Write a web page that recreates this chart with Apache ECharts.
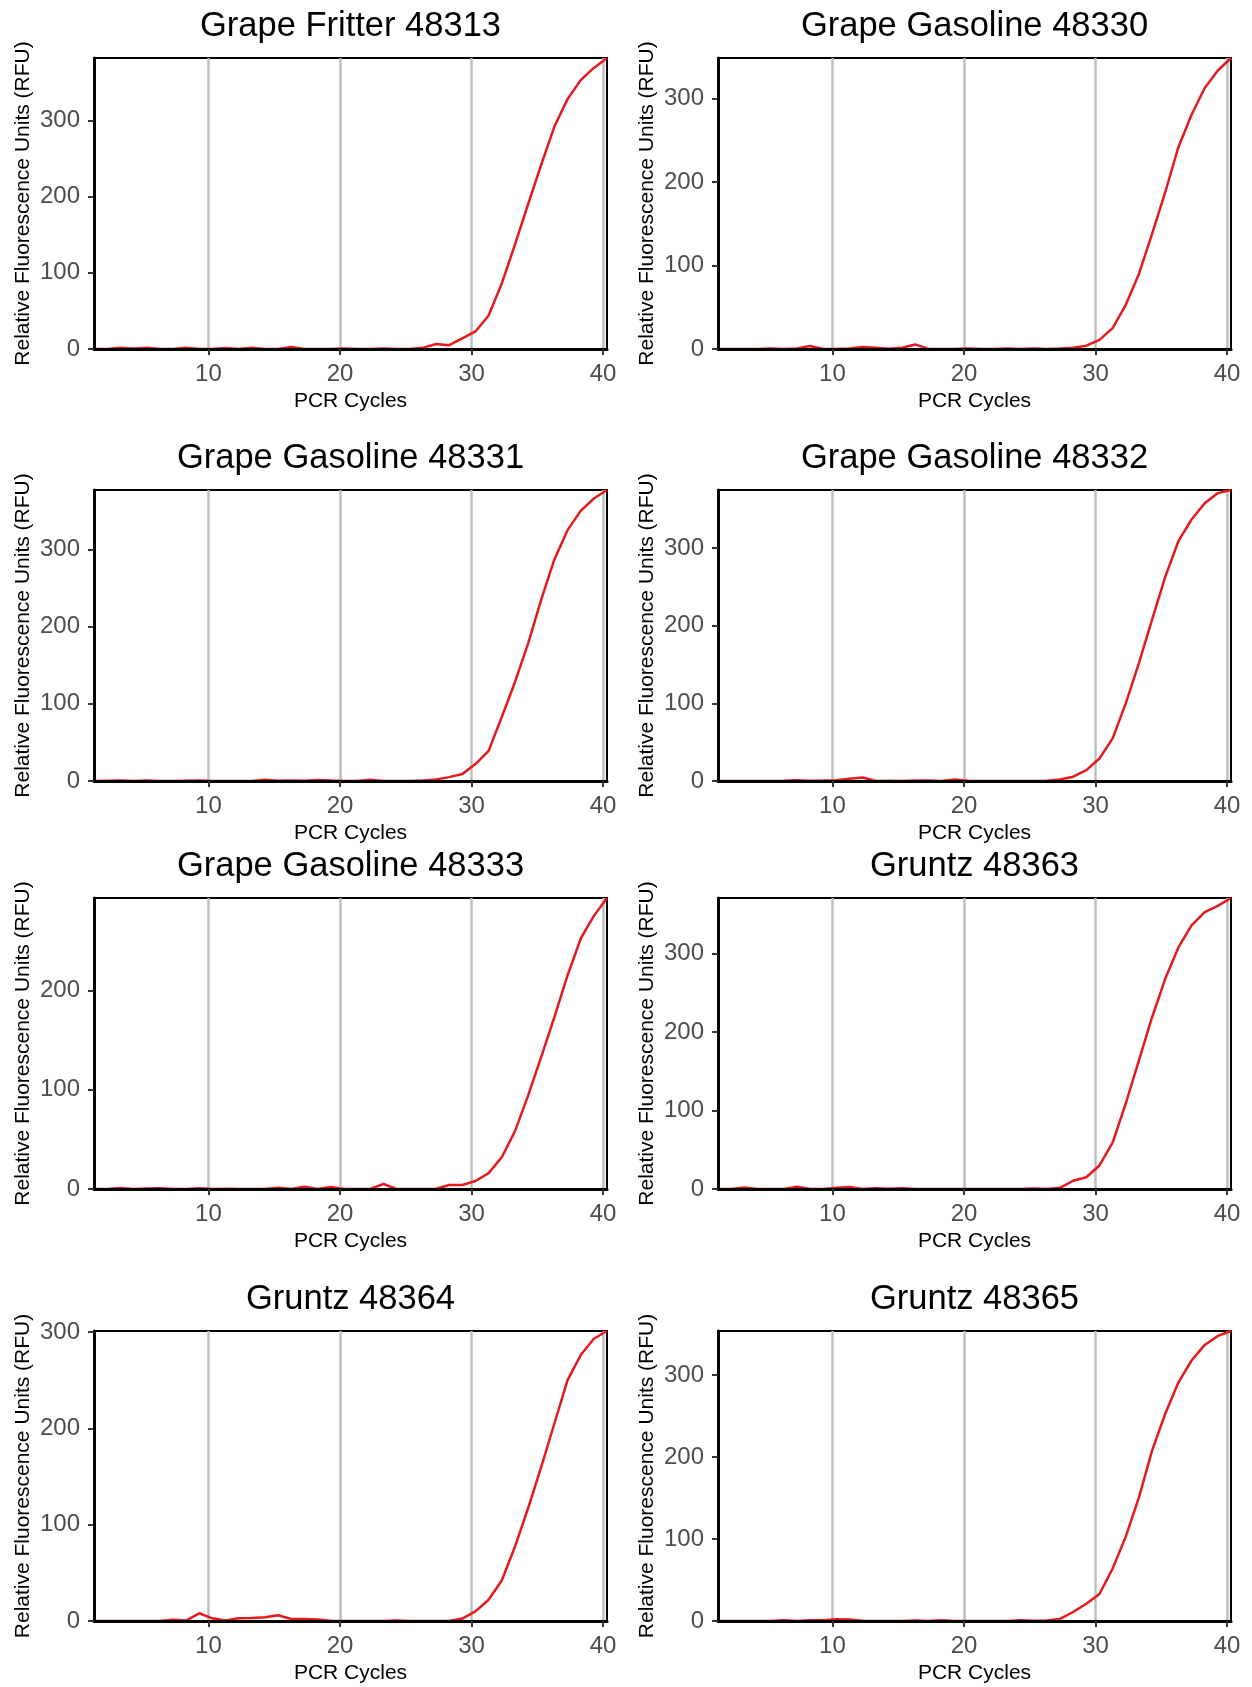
<!DOCTYPE html>
<html>
<head>
<meta charset="utf-8">
<script src="https://cdn.jsdelivr.net/npm/echarts@6/dist/echarts.min.js"></script>
<style>
html,body{margin:0;padding:0;background:#fff;}
#chart{width:1252px;height:1687px;}
</style>
</head>
<body>
<div id="chart"></div>
<script>
// ---- data ----
const cycles = [1.3, 2.3, 3.3, 4.3, 5.3, 6.3, 7.3, 8.3, 9.3, 10.3,
                11.3, 12.3, 13.3, 14.3, 15.3, 16.3, 17.3, 18.3, 19.3, 20.3,
                21.3, 22.3, 23.3, 24.3, 25.3, 26.3, 27.3, 28.3, 29.3, 30.3,
                31.3, 32.3, 33.3, 34.3, 35.3, 36.3, 37.3, 38.3, 39.3, 40.3];

const panelTitles = ["Grape Fritter 48313", "Grape Gasoline 48330",
                     "Grape Gasoline 48331", "Grape Gasoline 48332",
                     "Grape Gasoline 48333", "Gruntz 48363",
                     "Gruntz 48364", "Gruntz 48365"];

const rfu48313 = [0, 0, 1.5, 0.5, 1.5, 0, 0, 1.5, 0, 0,
                  1.2, 0, 1.8, 0, 0, 2.5, 0, 0, 0, 0.8,
                  0, 0, 0.8, 0, 0, 1.5, 6.5, 5, 14, 23,
                  44, 86, 137, 190, 242, 292, 328, 353, 369, 382];
const rfu48330 = [0, 0, 0, 0, 0.5, 0, 0.5, 3.5, 0, 0,
                  0.5, 2.5, 1.5, 0.3, 1.5, 5.5, 0, 0, 0, 0.5,
                  0, 0, 0.5, 0, 0.5, 0, 0.5, 1.5, 4, 11,
                  25, 53, 90, 138, 188, 242, 281, 313, 334, 349];
const rfu48331 = [0, 0.3, 0.5, 0, 0.8, 0, 0, 0.3, 0.5, 0,
                  0, 0, 0, 1.5, 0.3, 0.8, 0.3, 1.2, 0.5, 0,
                  0, 1.5, 0, 0, 0, 0.5, 2, 5, 9, 22,
                  39, 83, 128, 178, 235, 287, 325, 350, 366, 377];
const rfu48332 = [0, 0, 0, 0, 0, 0.3, 1, 0.3, 0.5, 1,
                  3, 4.5, 0, 0.3, 0, 0.5, 0.5, 0, 2, 0.3,
                  0, 0, 0, 0, 0, 0.3, 2, 5.5, 14, 29,
                  55, 100, 152, 208, 263, 309, 337, 358, 371, 375];
const rfu48333 = [0, 0, 1, 0, 0.5, 0.7, 0, 0, 0.8, 0,
                  0.3, 0, 0, 0, 1.2, 0, 2.3, 0, 2, 0,
                  0, 0, 5, 0, 0, 0, 0.3, 4, 4, 8,
                  16, 32, 58, 94, 133, 173, 215, 252, 275, 293];
const rfu48363 = [0, 0, 2, 0, 0, 0, 3, 0, 0, 1.5,
                  2.5, 0, 0.8, 0.3, 0.8, 0, 0, 0, 0, 0,
                  0, 0, 0, 0, 0.5, 0, 1.5, 10.5, 15, 30,
                  59, 109, 164, 219, 268, 308, 336, 353, 361, 371];
const rfu48364 = [0, 0, 0, 0, 0, 0, 1.3, 0.5, 8, 2.8,
                  0.5, 2.8, 3, 3.8, 6, 2, 2, 1.5, 0.3, 0,
                  0, 0, 0, 0.5, 0, 0, 0, 0, 2.5, 10,
                  22, 42, 77, 117, 160, 205, 250, 276, 293, 301];
const rfu48365 = [0, 0, 0, 0, 0, 0.8, 0, 1, 1, 2,
                  1.8, 0.3, 0, 0, 0, 0.5, 0, 1, 0, 0,
                  0, 0, 0, 1, 0.3, 0.5, 2.5, 11, 21, 33,
                  64, 103, 151, 208, 253, 291, 318, 337, 348, 354];

const xTickValues = [10, 20, 30, 40];
const yTickValues = [0, 100, 200, 300];

const xAxisTitle = "PCR Cycles";
const yAxisTitle = "Relative Fluorescence Units (RFU)";

const panelValues = [rfu48313, rfu48330, rfu48331, rfu48332,
                     rfu48333, rfu48363, rfu48364, rfu48365];

// ---- layout ----
const colLeft = [94, 718];
const rowTop = [58, 490, 898, 1331];
const rowH = [291, 291, 291, 290];
const plotW = 513;
const FONT = "'Liberation Sans', Arial, Helvetica, sans-serif";

const grids = [], xAxes = [], yAxes = [], series = [], graphics = [];

panelValues.forEach(function (vals, i) {
  const col = i % 2, row = Math.floor(i / 2);
  const left = colLeft[col], top = rowTop[row], h = rowH[row];
  grids.push({
    left: left, top: top, width: plotW, height: h,
    show: true, borderColor: '#000', borderWidth: 2,
    backgroundColor: 'transparent', containLabel: false
  });
  // background axis: vertical grid lines only
  xAxes.push({
    type: 'value', gridIndex: i, min: 1.3, max: 40.3, position: 'bottom', z: 0,
    axisLine: {show: false},
    axisTick: {show: false, customValues: xTickValues},
    axisLabel: {show: false, customValues: xTickValues},
    splitLine: {show: true, lineStyle: {color: '#BEBEBE', width: 2.5}}
  });
  // foreground axis: axis line, ticks, labels
  xAxes.push({
    type: 'value', gridIndex: i, min: 1.3, max: 40.3, position: 'bottom', z: 5,
    axisLine: {show: true, onZero: false, lineStyle: {color: '#000', width: 3}},
    axisTick: {show: true, customValues: xTickValues, length: 6,
               lineStyle: {color: '#333', width: 2}},
    axisLabel: {show: true, customValues: xTickValues, fontSize: 24, color: '#4D4D4D',
                fontFamily: FONT, margin: 13,
                formatter: function (v) { return xTickValues.indexOf(v) >= 0 ? String(v) : ''; }},
    splitLine: {show: false}
  });
  const vmax = Math.max.apply(null, vals);
  const yt = yTickValues.filter(function (v) { return v <= vmax; });
  yAxes.push({
    type: 'value', gridIndex: i, min: 0, max: 'dataMax', interval: 100, z: 5,
    axisLine: {show: true, onZero: false, lineStyle: {color: '#000', width: 3}},
    axisTick: {show: true, customValues: yt, length: 6, lineStyle: {color: '#333', width: 2}},
    axisLabel: {show: true, customValues: yt, fontSize: 24, color: '#4D4D4D',
                fontFamily: FONT, margin: 14,
                formatter: function (v) { return yt.indexOf(v) >= 0 ? String(v) : ''; }},
    splitLine: {show: false}
  });
  series.push({
    type: 'line', xAxisIndex: 2 * i, yAxisIndex: i, z: 2,
    data: cycles.map(function (c, k) { return [c, vals[k]]; }),
    showSymbol: false, symbol: 'none', silent: true, animation: false,
    lineStyle: {color: '#E41A1C', width: 2.5}
  });
  const cx = left + plotW / 2;
  graphics.push({
    type: 'text', x: cx, y: top - 32, silent: true,
    style: {text: panelTitles[i], fontSize: 34.5, fontFamily: FONT, fill: '#000',
            align: 'center', verticalAlign: 'middle',
            textAlign: 'center', textVerticalAlign: 'middle'}
  });
  graphics.push({
    type: 'text', x: cx, y: top + h + 52.5, silent: true,
    style: {text: xAxisTitle, fontSize: 21, fontFamily: FONT, fill: '#000',
            align: 'center', verticalAlign: 'middle',
            textAlign: 'center', textVerticalAlign: 'middle'}
  });
  graphics.push({
    type: 'text', x: left - 71, y: top + h / 2, rotation: Math.PI / 2, silent: true,
    style: {text: yAxisTitle, fontSize: 21, fontFamily: FONT, fill: '#000',
            align: 'center', verticalAlign: 'middle',
            textAlign: 'center', textVerticalAlign: 'middle'}
  });
});

const chart = echarts.init(document.getElementById('chart'), null, {renderer: 'canvas'});
chart.setOption({
  animation: false,
  backgroundColor: '#fff',
  textStyle: {fontFamily: FONT},
  grid: grids,
  xAxis: xAxes,
  yAxis: yAxes,
  series: series,
  graphic: graphics
});
</script>
</body>
</html>
